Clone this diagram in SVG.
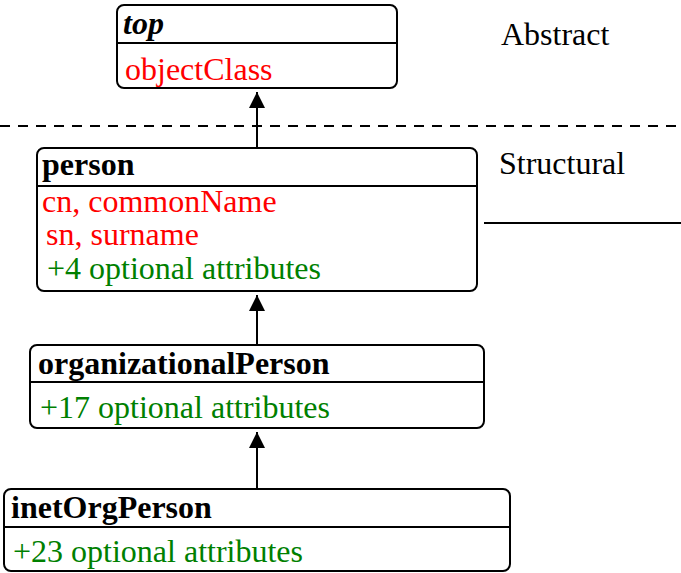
<svg xmlns="http://www.w3.org/2000/svg" width="681" height="573" viewBox="0 0 681 573">
<style>
.box{fill:#fff;stroke:#000;stroke-width:2}
.div{stroke:#000;stroke-width:2}
text{font-family:"Liberation Serif","Times New Roman",serif;font-size:32px}
.t{font-weight:bold;fill:#000}
.r{fill:#ff0000}
.g{fill:#008000}
.k{fill:#000}
.c{stroke:#000;stroke-width:2;fill:none}
</style>
<defs>
<marker id="ah" viewBox="0 0 16 16" refX="16" refY="8" markerWidth="16" markerHeight="16" markerUnits="userSpaceOnUse" orient="auto">
<path d="M0,0 L16,8 L0,16 Z" fill="#000"/>
</marker>
</defs>
<g id="levels">
<line x1="0" y1="126" x2="681" y2="126" stroke="#000" stroke-width="2" stroke-dasharray="10,8"/>
<line x1="484" y1="223" x2="681" y2="223" stroke="#000" stroke-width="2"/>
<text x="501" y="45" class="k">Abstract</text>
<text x="499" y="174" class="k">Structural</text>
</g>
<g id="connectors">
<line class="c" x1="257" y1="148" x2="257" y2="92" marker-end="url(#ah)"/>
<line class="c" x1="257" y1="345" x2="257" y2="295" marker-end="url(#ah)"/>
<line class="c" x1="257" y1="489" x2="257" y2="432" marker-end="url(#ah)"/>
</g>
<g id="top">
<rect class="box" x="117" y="5" width="280" height="83" rx="7"/>
<line class="div" x1="117" y1="43" x2="397" y2="43"/>
<text x="123" y="34" class="t" font-style="italic">top</text>
<text x="125" y="80" class="r">objectClass</text>
</g>
<g id="person">
<rect class="box" x="37" y="148" width="440" height="143" rx="7"/>
<line class="div" x1="37" y1="186" x2="477" y2="186"/>
<text x="42" y="175" class="t">person</text>
<text x="42" y="212" class="r">cn, commonName</text>
<text x="46" y="245" class="r">sn, surname</text>
<text x="47" y="279" class="g">+4 optional attributes</text>
</g>
<g id="organizationalPerson">
<rect class="box" x="30" y="345" width="454" height="83" rx="7"/>
<line class="div" x1="30" y1="382" x2="484" y2="382"/>
<text x="38" y="374" class="t">organizationalPerson</text>
<text x="40" y="418" class="g">+17 optional attributes</text>
</g>
<g id="inetOrgPerson">
<rect class="box" x="4" y="489" width="506" height="82" rx="7"/>
<line class="div" x1="4" y1="527" x2="510" y2="527"/>
<text x="11" y="518" class="t">inetOrgPerson</text>
<text x="13" y="562" class="g">+23 optional attributes</text>
</g>
</svg>
